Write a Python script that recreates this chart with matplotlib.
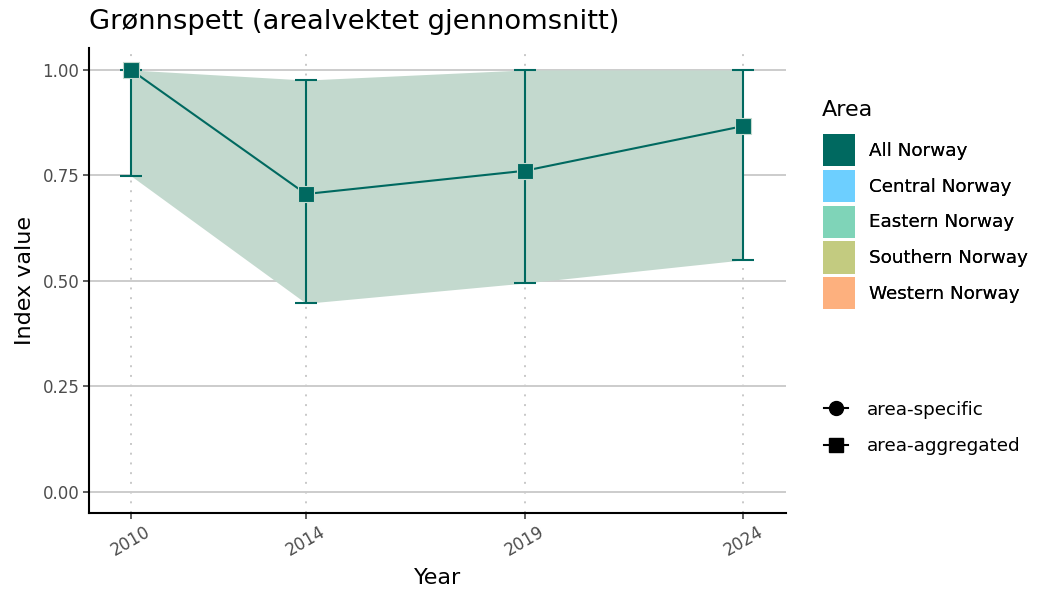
import numpy as np
import matplotlib.pyplot as plt
from matplotlib.patches import Patch
from matplotlib.lines import Line2D

years = [2010, 2014, 2019, 2024]
index_val = [1.00, 0.706, 0.761, 0.867]
lower = [0.749, 0.447, 0.495, 0.550]
upper = [1.00, 0.976, 1.00, 1.00]

areas = ['All Norway', 'Central Norway', 'Eastern Norway', 'Southern Norway', 'Western Norway']
area_colors = ['#006960', '#6dcfff', '#7fd4b8', '#c3cb80', '#fdb07e']
line_col = area_colors[0]

fig = plt.figure(figsize=(10.5, 6), dpi=100)
ax = fig.add_axes([0.0848, 0.145, 0.664, 0.775])

yrs = np.array(years)
ax.fill_between(yrs, lower, upper, color='#c3d9ce', lw=0, zorder=1)
ax.errorbar(yrs, index_val,
            yerr=[np.array(index_val) - np.array(lower), np.array(upper) - np.array(index_val)],
            fmt='none', ecolor=line_col, elinewidth=1.5, capsize=8, capthick=1.5, zorder=3)
ax.plot(yrs, index_val, color=line_col, lw=1.5, zorder=3)
ax.plot(yrs, index_val, ls='none', marker='s', ms=11, mfc=line_col, mec='#c3d9ce', mew=0.8, zorder=4)

ax.set_xlim(2009.04, 2024.98)
ax.set_ylim(-0.05, 1.052)
ax.set_xticks(years)
ax.set_yticks([0, 0.25, 0.5, 0.75, 1.0])
ax.set_yticklabels(['0.00', '0.25', '0.50', '0.75', '1.00'])
ax.set_axisbelow(True)
ax.grid(axis='y', color='#cccccc', lw=1.4, zorder=0)
for y in years:
    ax.axvline(y, color='#c8c8c8', lw=1.4, ls=(0, (1, 4)), zorder=0)

for s in ['top', 'right']:
    ax.spines[s].set_visible(False)
for s in ['left', 'bottom']:
    ax.spines[s].set_linewidth(1.5)
ax.tick_params(axis='both', labelsize=12, labelcolor='#4d4d4d', color='#333333',
               width=1.1, length=4, pad=3)
plt.setp(ax.get_xticklabels(), rotation=30)

ax.set_xlabel('Year', fontsize=16, labelpad=6)
ax.set_ylabel('Index value', fontsize=16, labelpad=5)
fig.text(0.085, 0.963, 'Grønnspett (arealvektet gjennomsnitt)', fontsize=19.7, va='center', ha='left')

# legend title placed by hand so the gap to the colour keys matches
fig.text(0.783, 1 - 110 / 600, 'Area', fontsize=16, va='center', ha='left')
area_handles = [Patch(facecolor=c, edgecolor='none') for c in area_colors]
leg1 = fig.legend(area_handles, areas, loc='upper left',
                  bbox_to_anchor=(0.784, 0.7767), frameon=False, fontsize=13.2,
                  handlelength=1.75, handleheight=2.32,
                  labelspacing=0.2, handletextpad=0.77,
                  borderpad=0, borderaxespad=0)

shape_handles = [Line2D([0], [0], color='black', lw=1.5, marker='o', ms=10),
                 Line2D([0], [0], color='black', lw=1.5, marker='s', ms=10)]
leg2 = fig.legend(shape_handles, ['area-specific', 'area-aggregated'], loc='upper left',
                  bbox_to_anchor=(0.785, 0.332), frameon=False, fontsize=13.2,
                  handlelength=1.3, labelspacing=1.0, handletextpad=1.05,
                  borderpad=0, borderaxespad=0)
fig.add_artist(leg1)

fig.savefig('out.png', dpi=100)
